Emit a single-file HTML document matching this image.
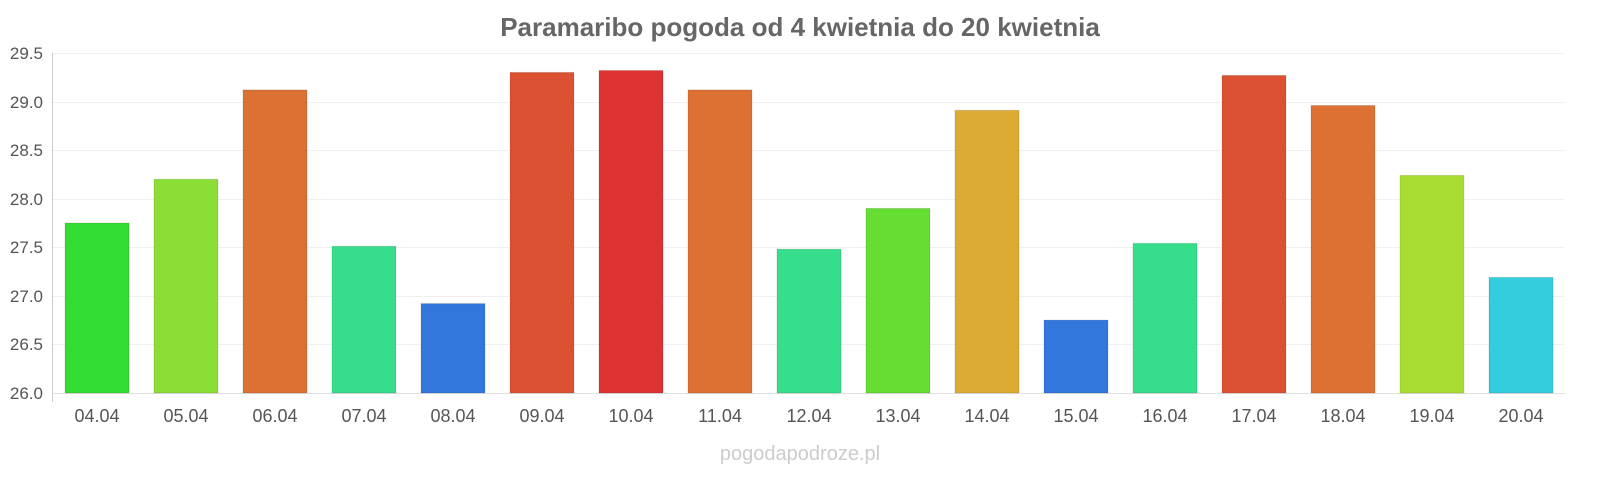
<!DOCTYPE html>
<html><head><meta charset="utf-8"><style>
html,body{margin:0;padding:0;background:#fff;}
svg{display:block;font-family:"Liberation Sans",sans-serif;}
</style></head><body>
<svg width="1600" height="480" viewBox="0 0 1600 480" xmlns="http://www.w3.org/2000/svg">
<text x="800" y="36" text-anchor="middle" font-size="26" font-weight="bold" fill="#666">Paramaribo pogoda od 4 kwietnia do 20 kwietnia</text>
<g stroke="#f0f0f0" stroke-width="1">
<line x1="52" x2="1565" y1="53.5" y2="53.5"/>
<line x1="52" x2="1565" y1="102.5" y2="102.5"/>
<line x1="52" x2="1565" y1="150.5" y2="150.5"/>
<line x1="52" x2="1565" y1="199.5" y2="199.5"/>
<line x1="52" x2="1565" y1="247.5" y2="247.5"/>
<line x1="52" x2="1565" y1="296.5" y2="296.5"/>
<line x1="52" x2="1565" y1="344.5" y2="344.5"/>
</g>
<line x1="52.5" x2="52.5" y1="53" y2="402" stroke="#ccc"/>
<line x1="52" x2="1565" y1="393.5" y2="393.5" stroke="#e0e0e0"/>
<g font-size="17" fill="#555" text-anchor="end">
<text x="43" y="59">29.5</text>
<text x="43" y="108">29.0</text>
<text x="43" y="156">28.5</text>
<text x="43" y="205">28.0</text>
<text x="43" y="253">27.5</text>
<text x="43" y="302">27.0</text>
<text x="43" y="350">26.5</text>
<text x="43" y="399">26.0</text>
</g>
<g stroke="rgba(0,0,0,0.12)">
<rect x="65" y="223" width="64" height="170" fill="#33dd33"/>
<rect x="154" y="179.3" width="64" height="213.7" fill="#8ade35"/>
<rect x="243" y="89.9" width="64" height="303.1" fill="#dd7033"/>
<rect x="332" y="246.3" width="64" height="146.7" fill="#36dd8b"/>
<rect x="421" y="303.6" width="64" height="89.4" fill="#3377dd"/>
<rect x="510" y="72.4" width="64" height="320.6" fill="#dd5133"/>
<rect x="599" y="70.5" width="64" height="322.5" fill="#dd3333"/>
<rect x="688" y="89.9" width="64" height="303.1" fill="#dd7033"/>
<rect x="777" y="249.2" width="64" height="143.8" fill="#36dd8b"/>
<rect x="866" y="208.4" width="64" height="184.6" fill="#66dd33"/>
<rect x="955" y="110.3" width="64" height="282.7" fill="#ddaa33"/>
<rect x="1044" y="320.1" width="64" height="72.9" fill="#3377dd"/>
<rect x="1133" y="243.4" width="64" height="149.6" fill="#36dd8b"/>
<rect x="1222" y="75.4" width="64" height="317.6" fill="#dd5133"/>
<rect x="1311" y="105.5" width="64" height="287.5" fill="#dd7033"/>
<rect x="1400" y="175.4" width="64" height="217.6" fill="#aadd33"/>
<rect x="1489" y="277.4" width="64" height="115.6" fill="#33cddd"/>
</g>
<g font-size="18" fill="#555" text-anchor="middle">
<text x="97" y="422">04.04</text>
<text x="186" y="422">05.04</text>
<text x="275" y="422">06.04</text>
<text x="364" y="422">07.04</text>
<text x="453" y="422">08.04</text>
<text x="542" y="422">09.04</text>
<text x="631" y="422">10.04</text>
<text x="720" y="422">11.04</text>
<text x="809" y="422">12.04</text>
<text x="898" y="422">13.04</text>
<text x="987" y="422">14.04</text>
<text x="1076" y="422">15.04</text>
<text x="1165" y="422">16.04</text>
<text x="1254" y="422">17.04</text>
<text x="1343" y="422">18.04</text>
<text x="1432" y="422">19.04</text>
<text x="1521" y="422">20.04</text>
</g>
<text x="800" y="460" text-anchor="middle" font-size="20" fill="#ccc">pogodapodroze.pl</text>
</svg>
</body></html>
